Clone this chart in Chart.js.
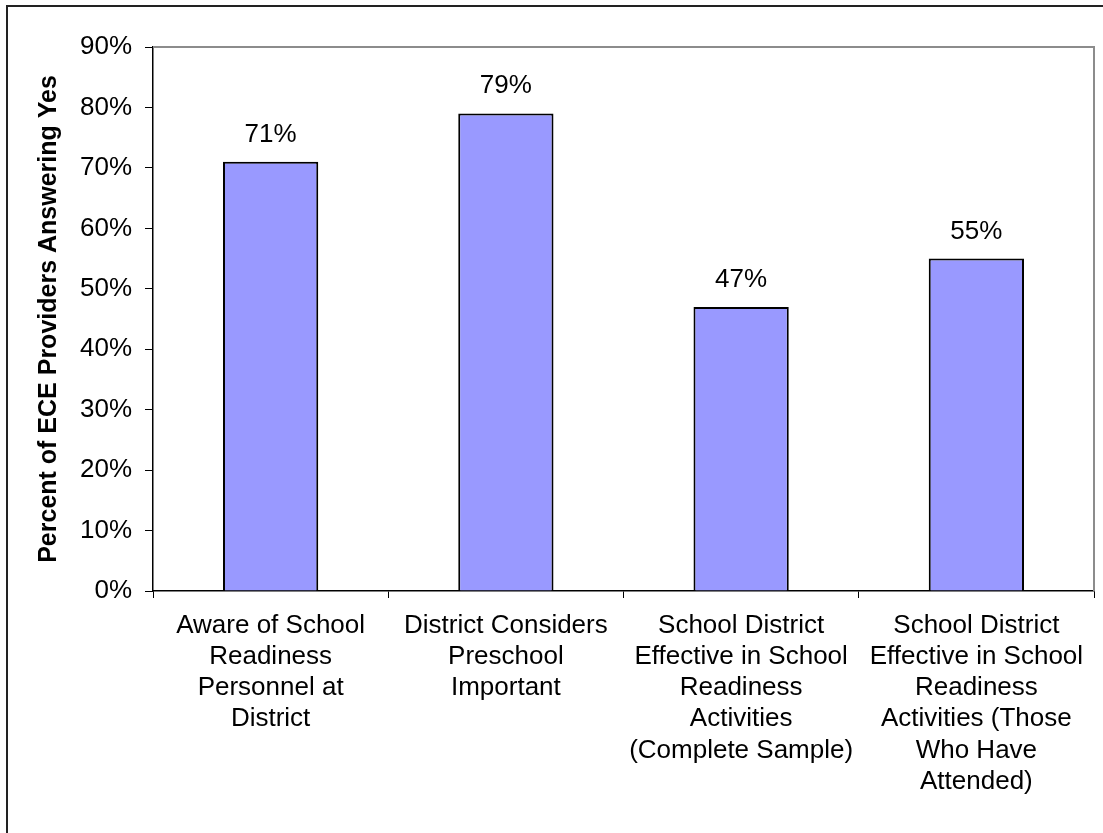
<!DOCTYPE html>
<html>
<head>
  <meta charset="UTF-8">
  <script src="https://cdn.jsdelivr.net/npm/chart.js"></script>
  <title>ECE Providers</title>
  <style>
    body { margin: 0; background: #fff; }
    .wrap { position: relative; width: 1103px; height: 833px; overflow: hidden; }
    .frame { position: absolute; left: 6px; top: 5px; width: 1200px; height: 900px;
             border-left: 2px solid #222; border-top: 2px solid #222; }
    #chart { position: absolute; left: 0; top: 0; }
  </style>
</head>
<body>
  <div class="wrap">
    <div class="frame"></div>
    <canvas id="chart" width="1103" height="833"></canvas>
  </div>
  <script>
    var categories = [
      ['Aware of School', 'Readiness', 'Personnel at', 'District'],
      ['District Considers', 'Preschool', 'Important'],
      ['School District', 'Effective in School', 'Readiness', 'Activities', '(Complete Sample)'],
      ['School District', 'Effective in School', 'Readiness', 'Activities (Those', 'Who Have', 'Attended)']
    ];
    var percentYes = [71, 79, 47, 55];
    var yMax = 90;
    var yStep = 10;

    // value labels above each bar, plus the grey top/right edge of the plot
    var extras = {
      id: 'extras',
      afterDraw: function (chart) {
        var ctx = chart.ctx;
        var a = chart.chartArea;
        ctx.save();
        ctx.strokeStyle = '#8c8c8c';
        ctx.lineWidth = 2;
        ctx.beginPath();
        ctx.moveTo(a.left, a.top);
        ctx.lineTo(a.right, a.top);
        ctx.lineTo(a.right, a.bottom);
        ctx.stroke();

        ctx.fillStyle = '#000';
        ctx.font = '26px Arial, "Liberation Sans", sans-serif';
        ctx.textAlign = 'center';
        ctx.textBaseline = 'alphabetic';
        chart.getDatasetMeta(0).data.forEach(function (bar, i) {
          ctx.fillText(percentYes[i] + '%', bar.x, bar.y - 20);
        });
        ctx.restore();
      }
    };

    new Chart(document.getElementById('chart'), {
      type: 'bar',
      data: {
        labels: categories,
        datasets: [{
          data: percentYes,
          backgroundColor: '#9999ff',
          borderColor: '#000',
          borderWidth: 2,
          barPercentage: 0.405,
          categoryPercentage: 1
        }]
      },
      options: {
        responsive: false,
        animation: false,
        layout: { padding: { top: 47, right: 9, left: 0, bottom: 0 } },
        plugins: { legend: { display: false }, tooltip: { enabled: false } },
        scales: {
          x: {
            afterFit: function (s) { s.height = 242; },
            grid: { offset: true, drawOnChartArea: false, drawTicks: true, tickLength: 7, color: '#000' },
            border: { color: '#000', width: 1.5 },
            ticks: {
              color: '#000',
              maxRotation: 0,
              autoSkip: false,
              padding: 12,
              font: { family: 'Arial, "Liberation Sans", sans-serif', size: 26, lineHeight: 1.2 }
            }
          },
          y: {
            min: 0,
            max: yMax,
            afterFit: function (s) { s.width = 153; },
            grid: { drawOnChartArea: false, drawTicks: true, tickLength: 8, color: '#000' },
            border: { color: '#000', width: 1.5 },
            ticks: {
              stepSize: yStep,
              color: '#000',
              padding: 13,
              font: { family: 'Arial, "Liberation Sans", sans-serif', size: 26 },
              callback: function (v) { return v + '%'; }
            },
            title: {
              display: true,
              text: 'Percent of ECE Providers Answering Yes',
              color: '#000',
              padding: { top: 34, bottom: 0 },
              font: { family: 'Arial, "Liberation Sans", sans-serif', size: 25, weight: 'bold' }
            }
          }
        }
      },
      plugins: [extras]
    });
  </script>
</body>
</html>
